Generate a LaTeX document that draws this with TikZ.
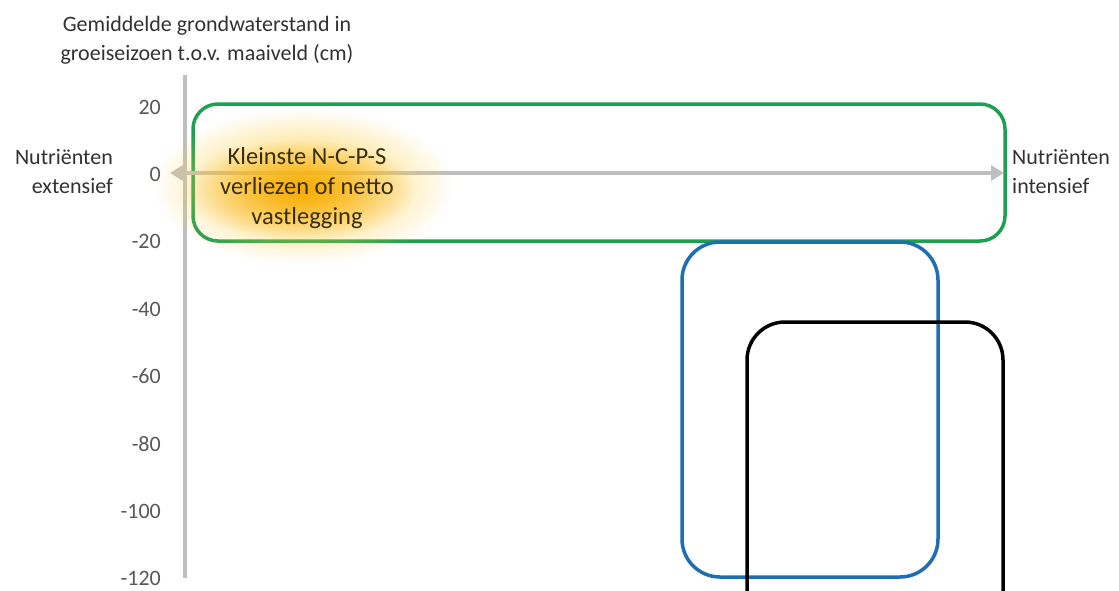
\documentclass[tikz,border=0pt]{standalone}
\usepackage{fontspec}
\setmainfont{Carlito}
\usetikzlibrary{arrows.meta,fadings}
\definecolor{axisgray}{RGB}{191,191,191}
\definecolor{ticktext}{RGB}{89,89,89}
\definecolor{labtext}{RGB}{50,50,50}
\definecolor{boxgreen}{RGB}{30,160,80}
\definecolor{boxblue}{RGB}{30,110,180}
\definecolor{glowO}{RGB}{247,170,0}
\definecolor{glowY}{RGB}{255,205,60}
\definecolor{glowtext}{RGB}{55,45,15}
\tikzfading[name=glowfade, inner color=transparent!0, outer color=transparent!100]
\begin{document}
\begin{tikzpicture}[x=1pt,y=-1pt,
  ticklab/.style={anchor=east,text=ticktext,font=\fontsize{22}{29}\selectfont,inner sep=0},
  sidelab/.style={text=labtext,font=\fontsize{22}{29}\selectfont,inner sep=0},
  zone/.style={draw,line width=3.5pt,minimum width=256pt,inner sep=0,rounded corners=38pt},
  axisline/.style={draw=axisgray,line width=4pt},
]
\useasboundingbox[fill=white] (0,0) rectangle (1119,590);
% title
\node[sidelab,align=center] (title) at (207,40) {Gemiddelde grondwaterstand in\\groeiseizoen t.o.v. maaiveld (cm)};
% ticks
\foreach \v [count=\i from 0] in {20,0,-20,-40,-60,-80,-100,-120}
  \node[ticklab] (t\i) at (161,{107+67.4*\i}) {\v};
% axis
\coordinate (yT) at (185,75);
\coordinate (yB) at (185,578);
\draw[axisline] (yT) -- (yB);
% boxes
\node[zone,draw=boxgreen,minimum width=812pt,minimum height=137pt,rounded corners=25pt] (green) at (599,172.5) {};
\node[zone,draw=boxblue,minimum height=335pt] (blue) at (810,409.5) {};
\node[zone,draw=black,minimum height=378pt] (black) at (875,511) {};
% horizontal arrow
\coordinate (aL) at (170,173);
\coordinate (aR) at (1004,173);
\draw[axisline,{Triangle[length=13pt,width=15pt]}-{Triangle[length=13pt,width=15pt]}] (aL) -- (aR);
% glow
\fill[glowY,path fading=glowfade,opacity=0.95] (303,186) ellipse (150 and 78);
\fill[glowO,path fading=glowfade,opacity=0.95] (300,190) ellipse (115 and 50);
% labels
\node[sidelab,align=right,anchor=east] (ext) at (113,172) {Nutriënten\\extensief};
\node[sidelab,align=left,anchor=west] (int) at (1012,172) {Nutriënten\\intensief};
\node[inner sep=0,align=center,text=glowtext,font=\fontsize{24.5}{30}\selectfont] (glow) at (307,188) {Kleinste N-C-P-S\\verliezen of netto\\vastlegging};
\end{tikzpicture}
\end{document}
